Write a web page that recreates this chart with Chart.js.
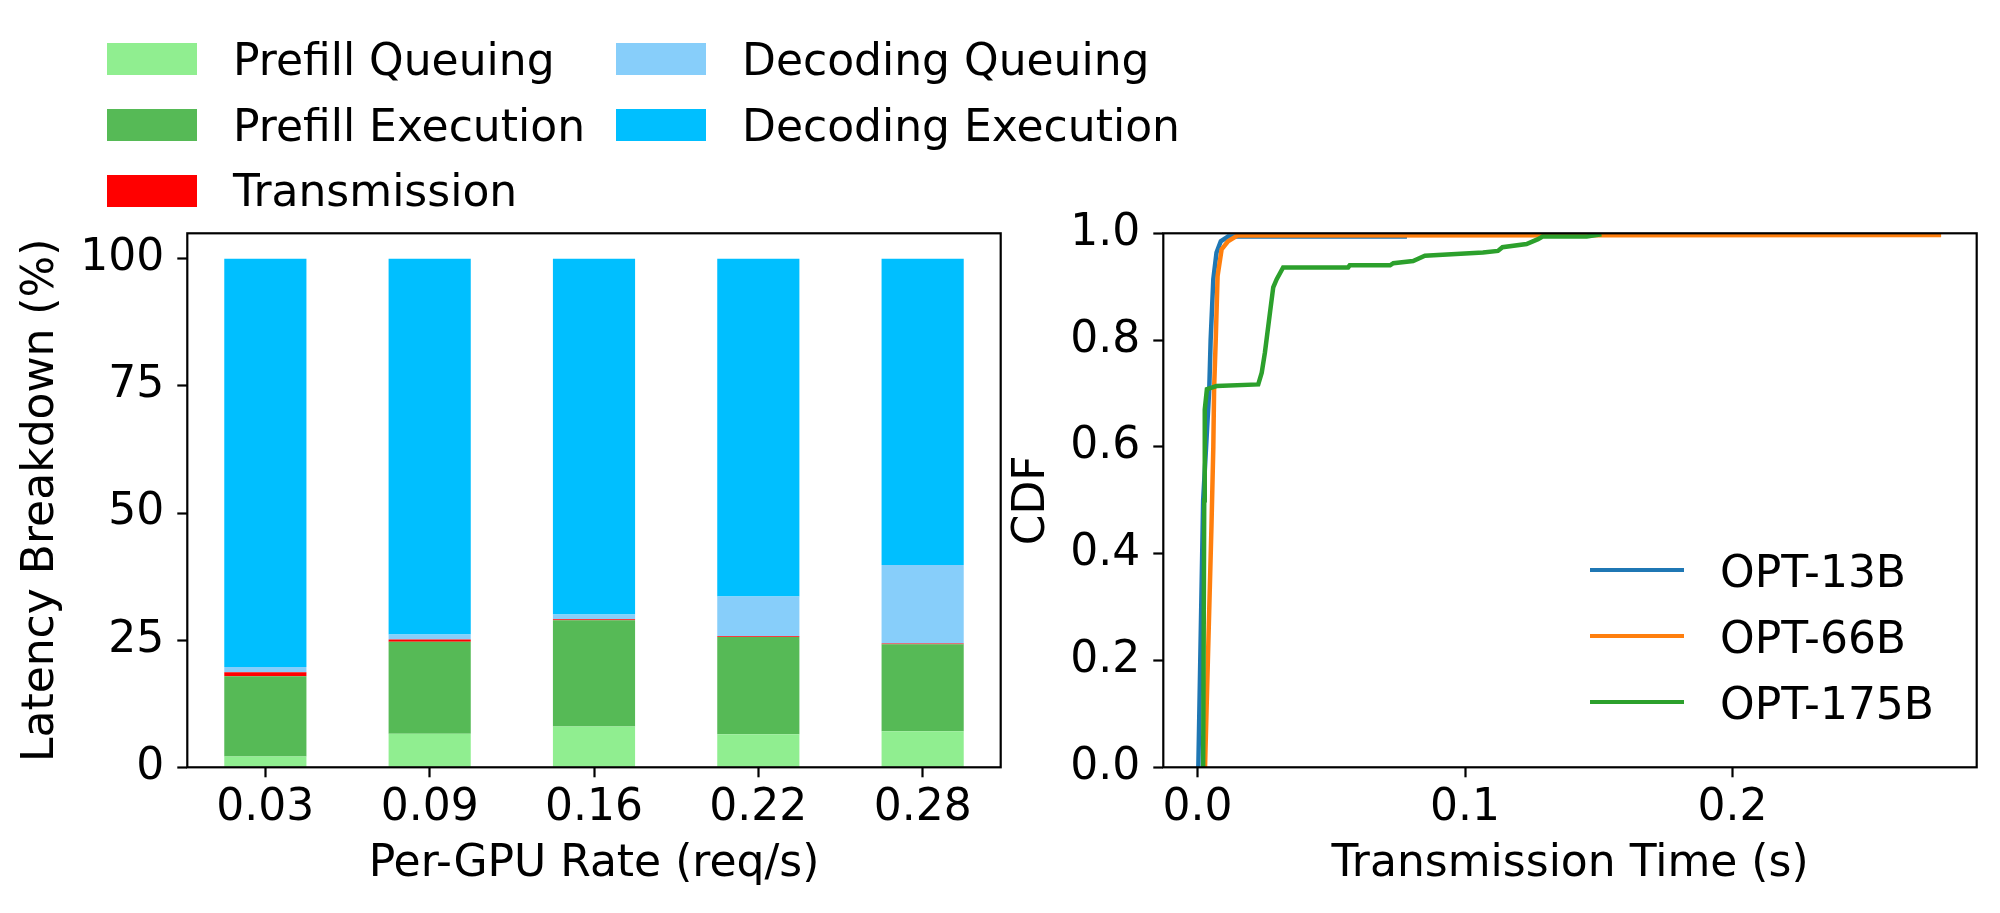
<!DOCTYPE html>
<html>
<head>
<meta charset="utf-8">
<script src="https://cdn.jsdelivr.net/npm/chart.js@4.4.0/dist/chart.umd.min.js"></script>
<style>
  html, body { margin:0; padding:0; background:#fff; width:2000px; height:913px; overflow:hidden; }
  #wrap { position:relative; width:2000px; height:913px; }
  canvas { position:absolute; top:0; }
  #cBars { left:0; }
  #cCdf  { left:1000px; }
  .sw  { position:absolute; }
  .lbl { position:absolute; font:44px 'DejaVu Sans'; line-height:44px; color:#000; white-space:nowrap; }
</style>
</head>
<body>
<div id="wrap">
  <canvas id="cBars" width="1040" height="913"></canvas>
  <canvas id="cCdf" width="1000" height="913"></canvas>
  <div id="legBars"></div>
  <div id="legCdf"></div>
</div>
<script>
// ── Data: latency breakdown (%) per rate ─────────────────────────────────────
const rateLabels        = ['0.03', '0.09', '0.16', '0.22', '0.28'];
const ratePos           = [0, 1, 2, 3, 4];
const prefillQueuing    = [2.1, 6.6, 8.0, 6.5, 7.1];
const prefillExecution  = [15.8, 18.1, 20.9, 19.1, 17.1];
const transmission      = [0.8, 0.45, 0.2, 0.15, 0.15];
const decodingQueuing   = [1.0, 0.95, 0.95, 7.85, 15.45];
const decodingExecution = [80.3, 73.9, 69.95, 66.4, 60.2];
const breakdownNames  = ['Prefill Queuing', 'Prefill Execution', 'Transmission', 'Decoding Queuing', 'Decoding Execution'];
const breakdownColors = ['#90ee90', '#56ba56', '#ff0000', '#87cefa', '#00bfff'];
const latencyTicks    = [0, 25, 50, 75, 100];

// ── Data: transmission time CDF ──────────────────────────────────────────────
const opt13bX  = [0.0003, 0.0021, 0.0044, 0.0049, 0.0059, 0.0071, 0.0087, 0.0114, 0.0775, 0.0776];
const opt13bY  = [0, 0.5, 0.71, 0.8, 0.914, 0.964, 0.985, 0.994, 0.994, 1.0];
const opt66bX  = [0.0028, 0.0052, 0.0059, 0.0062, 0.0068, 0.0075, 0.009, 0.0114, 0.015, 0.278];
const opt66bY  = [0, 0.45, 0.6, 0.71, 0.8, 0.92, 0.97, 0.985, 0.996, 0.997];
const opt175bX = [0.0021, 0.0025, 0.0027, 0.0035, 0.0071, 0.0227, 0.024, 0.0252, 0.0271, 0.0283, 0.0296, 0.032,
                  0.0563, 0.0569, 0.072, 0.0732, 0.0806, 0.085, 0.1067, 0.1123, 0.114, 0.123, 0.1273, 0.129, 0.1455, 0.151];
const opt175bY = [0, 0.5, 0.67, 0.708, 0.714, 0.717, 0.739, 0.777, 0.852, 0.899, 0.914, 0.936,
                  0.936, 0.940, 0.940, 0.944, 0.948, 0.958, 0.964, 0.967, 0.974, 0.980, 0.989, 0.994, 0.994, 0.998];
const cdfNames  = ['OPT-13B', 'OPT-66B', 'OPT-175B'];
const cdfColors = ['#1f77b4', '#ff7f0e', '#2ca02c'];
const cdfXTicks = [0, 0.1, 0.2];
const cdfYTicks = [0, 0.2, 0.4, 0.6, 0.8, 1.0];

// ── Shared styling ───────────────────────────────────────────────────────────
const FONT = { family:"'DejaVu Sans'", size:44 };
const grid = { drawOnChartArea:false, drawTicks:true, tickLength:10, tickWidth:2.2, tickColor:'#000', offset:false };
const fixTicks = vals => scale => { scale.ticks = vals.map(v => ({ value:v })); };

// axes frame drawn over the data, like spines
const frame = {
  id:'frame',
  afterDatasetsDraw(c) {
    const a = c.chartArea, ctx = c.ctx;
    ctx.save();
    ctx.strokeStyle = '#000'; ctx.lineWidth = 2.2;
    ctx.strokeRect(a.left, a.top, a.right - a.left, a.bottom - a.top);
    ctx.restore();
  }
};

// ── Left: stacked bars ───────────────────────────────────────────────────────
const breakdownSeries = [prefillQueuing, prefillExecution, transmission, decodingQueuing, decodingExecution];

const barChart = new Chart(document.getElementById('cBars'), {
  type:'bar',
  data:{
    datasets: breakdownSeries.map((vals, i) => ({
      label: breakdownNames[i],
      data: vals.map((v, j) => ({ x: ratePos[j], y: v })),
      backgroundColor: breakdownColors[i],
      borderWidth: 0,
      categoryPercentage: 1,
      barPercentage: 0.5
    }))
  },
  options:{
    responsive:false, animation:false,
    layout:{ padding:{ top:233.3, right:39.3, bottom:0, left:0 } },
    plugins:{ legend:{ display:false }, tooltip:{ enabled:false } },
    scales:{
      x:{
        type:'linear', stacked:true, offset:false, min:-0.475, max:4.475,
        afterBuildTicks: fixTicks(ratePos),
        afterFit: s => { s.height = 145.7; },
        grid, border:{ display:false },
        ticks:{ font:FONT, color:'#000', padding:5, maxRotation:0, autoSkip:false,
                callback: v => rateLabels[v] },
        title:{ display:true, text:'Per-GPU Rate (req/s)', font:FONT, color:'#000', padding:{ top:0, bottom:22 } }
      },
      y:{
        stacked:true, min:0, max:105,
        afterBuildTicks: fixTicks(latencyTicks),
        afterFit: s => { s.width = 187.3; },
        grid, border:{ display:false },
        ticks:{ font:FONT, color:'#000', padding:13 },
        title:{ display:true, text:'Latency Breakdown (%)', font:FONT, color:'#000', padding:{ top:15, bottom:0 } }
      }
    }
  },
  plugins:[frame]
});

// ── Right: CDF lines ─────────────────────────────────────────────────────────
const cdfSeries = [[opt13bX, opt13bY], [opt66bX, opt66bY], [opt175bX, opt175bY]];

const cdfChart = new Chart(document.getElementById('cCdf'), {
  type:'scatter',
  data:{
    datasets: cdfSeries.map(([xs, ys], i) => ({
      label: cdfNames[i],
      data: xs.map((x, j) => ({ x, y: ys[j] })),
      showLine:true, pointRadius:0, borderWidth:4.5,
      borderColor: cdfColors[i], backgroundColor: cdfColors[i],
      order: cdfSeries.length - i
    }))
  },
  options:{
    responsive:false, animation:false,
    layout:{ padding:{ top:233.3, right:23.3, bottom:0, left:0 } },
    plugins:{ legend:{ display:false }, tooltip:{ enabled:false } },
    scales:{
      x:{
        type:'linear', min:-0.0128, max:0.2913,
        afterBuildTicks: fixTicks(cdfXTicks),
        afterFit: s => { s.height = 145.7; },
        grid, border:{ display:false },
        ticks:{ font:FONT, color:'#000', padding:5, maxRotation:0, callback: v => v.toFixed(1) },
        title:{ display:true, text:'Transmission Time (s)', font:FONT, color:'#000', padding:{ top:0, bottom:22 } }
      },
      y:{
        min:0, max:1,
        afterBuildTicks: fixTicks(cdfYTicks),
        afterFit: s => { s.width = 163.3; },
        grid, border:{ display:false },
        ticks:{ font:FONT, color:'#000', padding:13, callback: v => v.toFixed(1) },
        title:{ display:true, text:'CDF', font:FONT, color:'#000', padding:{ top:6.6, bottom:0 } }
      }
    }
  },
  plugins:[frame]
});

// ── Legends (HTML, built from the chart datasets) ────────────────────────────
function addItem(host, left, top, w, h, color, textLeft, textTop, text) {
  const sw = document.createElement('div');
  sw.className = 'sw';
  Object.assign(sw.style, { left:left+'px', top:top+'px', width:w+'px', height:h+'px', background:color });
  const t = document.createElement('div');
  t.className = 'lbl';
  Object.assign(t.style, { left:textLeft+'px', top:textTop+'px' });
  t.textContent = text;
  host.appendChild(sw); host.appendChild(t);
}

// two columns, filled column by column
const legBars = document.getElementById('legBars');
const barCols = [107, 616], barRows = [59.2, 125.2, 190.8];
barChart.data.datasets.forEach((d, i) => {
  const col = Math.floor(i / 3), row = i % 3;
  const x = barCols[col], yc = barRows[row];
  addItem(legBars, x, yc - 15.8, 90, 31.6, d.backgroundColor, x + 126, yc - 21.4, d.label);
});

const legCdf = document.getElementById('legCdf');
const cdfRows = [570, 636, 702];
cdfChart.data.datasets.forEach((d, i) => {
  addItem(legCdf, 1590, cdfRows[i] - 2, 94, 4, d.borderColor, 1720, cdfRows[i] - 20.5, d.label);
});
</script>
</body>
</html>
